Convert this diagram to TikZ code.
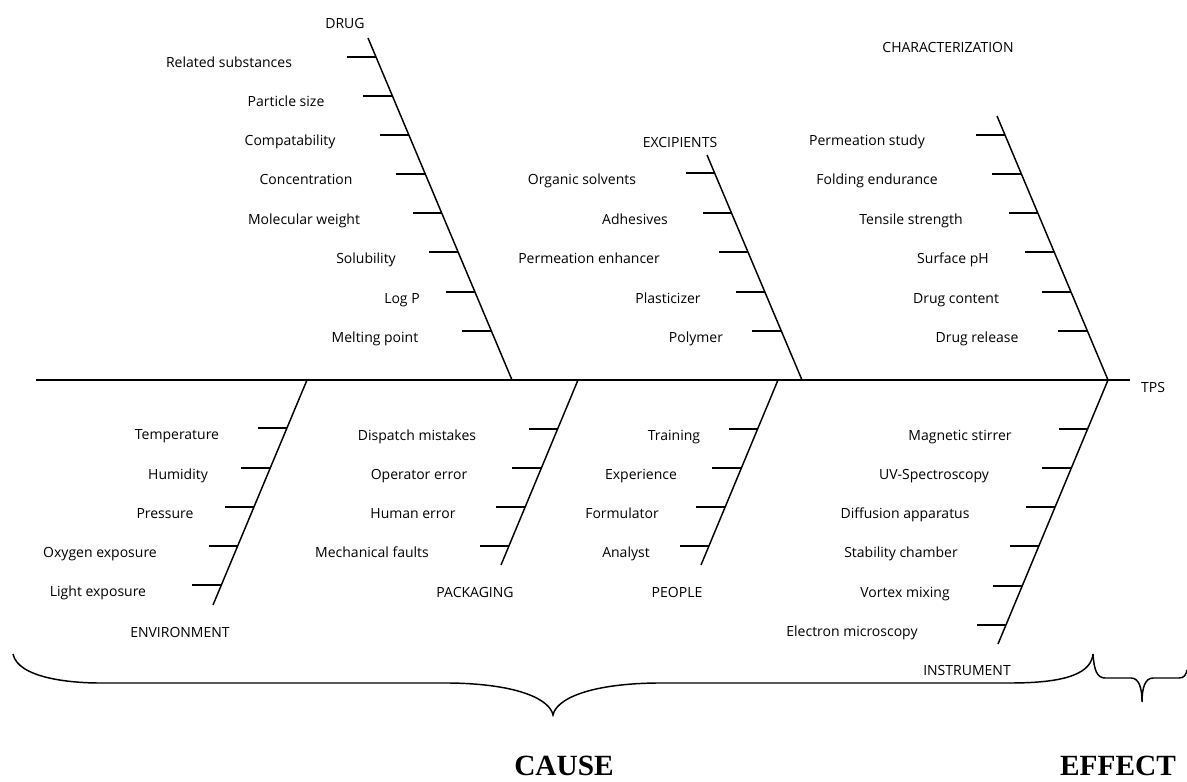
\documentclass[tikz,border=0pt]{standalone}
\usepackage{fontspec}
\setmainfont{Open Sans}
\newfontfamily\headfont{Liberation Serif}
\usetikzlibrary{calc}

\tikzset{
  spine/.style={line width=1.5pt, line cap=butt},
  bone/.style={line width=1.1pt},
  rib/.style={line width=1.3pt},
  lbl/.style={anchor=base, inner sep=0pt, font=\fontsize{10.5}{12}\selectfont},
  cat/.style={lbl},
  verdict/.style={anchor=base, inner sep=0pt, font=\headfont\bfseries\fontsize{22}{26}\selectfont},
  brace/.style={line width=1.1pt},
}

% one slanted bone with its short horizontal ribs
% #1 name, (#2,#3) top end, (#4,#5) bottom end, #6 rib heights
\newcommand\drawbone[6]{%
  \coordinate (#1-top) at (#2,#3);
  \coordinate (#1-bot) at (#4,#5);
  \draw[bone] (#1-top) -- (#1-bot);
  \foreach \ry [count=\ri] in {#6}{%
    \pgfmathsetmacro\rf{(\ry-#3)/(#5-#3)}%
    \coordinate (#1-b\ri) at ($(#1-top)!\rf!(#1-bot)$);
    \coordinate (#1-e\ri) at ($(#1-b\ri)+(-29,0)$);
    \draw[rib] (#1-b\ri) -- (#1-e\ri);
  }%
}

\begin{document}
\begin{tikzpicture}[x=0.75pt, y=-0.75pt]
\path[use as bounding box, fill=white] (0,0) rectangle (1187,781);

% main spine towards the effect
\coordinate (tail) at (36,380);
\coordinate (head) at (1130,380);
\draw[spine] (tail) -- (head);
\node[lbl] (tps) at (1153,392) {TPS};

% upper bones
\drawbone{drug}{368}{38}{512}{380}{57,96,135,174,213,252,292,331}
\drawbone{excip}{707}{155}{802}{380}{173,213,252,292,331}
\drawbone{charac}{997}{116}{1108}{380}{135,174,213,252,292,331}

% lower bones
\drawbone{env}{307}{380}{213}{605}{428,468,507,546,585}
\drawbone{pack}{578}{380}{501}{565}{429,468,507,546}
\drawbone{people}{778}{380}{701}{565}{429,468,507,546}
\drawbone{instr}{1108}{380}{998}{644}{429,468,507,546,586,625}

% DRUG
\node[cat] (drug) at (345,29) {DRUG};
\node[lbl] (drug-l1) at (229,68) {Related substances};
\node[lbl] (drug-l2) at (286,107) {Particle size};
\node[lbl] (drug-l3) at (290,146) {Compatability};
\node[lbl] (drug-l4) at (306,185) {Concentration};
\node[lbl] (drug-l5) at (304,224) {Molecular weight};
\node[lbl] (drug-l6) at (366,263) {Solubility};
\node[lbl] (drug-l7) at (402,303) {Log P};
\node[lbl] (drug-l8) at (375,342) {Melting point};

% EXCIPIENTS
\node[cat] (excip) at (680,147) {EXCIPIENTS};
\node[lbl] (excip-l1) at (582,184) {Organic solvents};
\node[lbl] (excip-l2) at (635,224) {Adhesives};
\node[lbl] (excip-l3) at (589,263) {Permeation enhancer};
\node[lbl] (excip-l4) at (668,303) {Plasticizer};
\node[lbl] (excip-l5) at (696,342) {Polymer};

% CHARACTERIZATION
\node[cat] (charac) at (948,53) {CHARACTERIZATION};
\node[lbl] (charac-l1) at (867,146) {Permeation study};
\node[lbl] (charac-l2) at (877,185) {Folding endurance};
\node[lbl] (charac-l3) at (911,224) {Tensile strength};
\node[lbl] (charac-l4) at (953,263) {Surface pH};
\node[lbl] (charac-l5) at (956,303) {Drug content};
\node[lbl] (charac-l6) at (977,342) {Drug release};

% ENVIRONMENT
\node[cat] (env) at (180,637) {ENVIRONMENT};
\node[lbl] (env-l1) at (177,439) {Temperature};
\node[lbl] (env-l2) at (178,479) {Humidity};
\node[lbl] (env-l3) at (165,518) {Pressure};
\node[lbl] (env-l4) at (100,557) {Oxygen exposure};
\node[lbl] (env-l5) at (98,596) {Light exposure};

% PACKAGING
\node[cat] (pack) at (475,597) {PACKAGING};
\node[lbl] (pack-l1) at (417,440) {Dispatch mistakes};
\node[lbl] (pack-l2) at (419,479) {Operator error};
\node[lbl] (pack-l3) at (413,518) {Human error};
\node[lbl] (pack-l4) at (372,557) {Mechanical faults};

% PEOPLE
\node[cat] (people) at (677,597) {PEOPLE};
\node[lbl] (people-l1) at (674,440) {Training};
\node[lbl] (people-l2) at (641,479) {Experience};
\node[lbl] (people-l3) at (622,518) {Formulator};
\node[lbl] (people-l4) at (626,557) {Analyst};

% INSTRUMENT
\node[cat] (instr) at (967,675) {INSTRUMENT};
\node[lbl] (instr-l1) at (960,440) {Magnetic stirrer};
\node[lbl] (instr-l2) at (934,479) {UV-Spectroscopy};
\node[lbl] (instr-l3) at (905,518) {Diffusion apparatus};
\node[lbl] (instr-l4) at (901,557) {Stability chamber};
\node[lbl] (instr-l5) at (905,597) {Vortex mixing};
\node[lbl] (instr-l6) at (852,636) {Electron microscopy};

% braces grouping causes and effect
\draw[brace] (13,654) .. controls (18,678) and (70,683) .. (100,683) -- (450,683)
  .. controls (520,684) and (550,700) .. (553,715)
  .. controls (556,700) and (586,684) .. (656,683) -- (1010,683)
  .. controls (1070,683) and (1091,672) .. (1093,654);
\draw[brace] (1093,654) .. controls (1094,670) and (1097,678) .. (1105,678) -- (1131,678)
  .. controls (1139,678) and (1142,688) .. (1142,702)
  .. controls (1142,688) and (1145,678) .. (1153,678) -- (1179,678)
  .. controls (1184,678) and (1186,675) .. (1187,670);

\node[verdict] (cause) at (564,775) {CAUSE};
\node[verdict] (effect) at (1118,775) {EFFECT};
\end{tikzpicture}
\end{document}
